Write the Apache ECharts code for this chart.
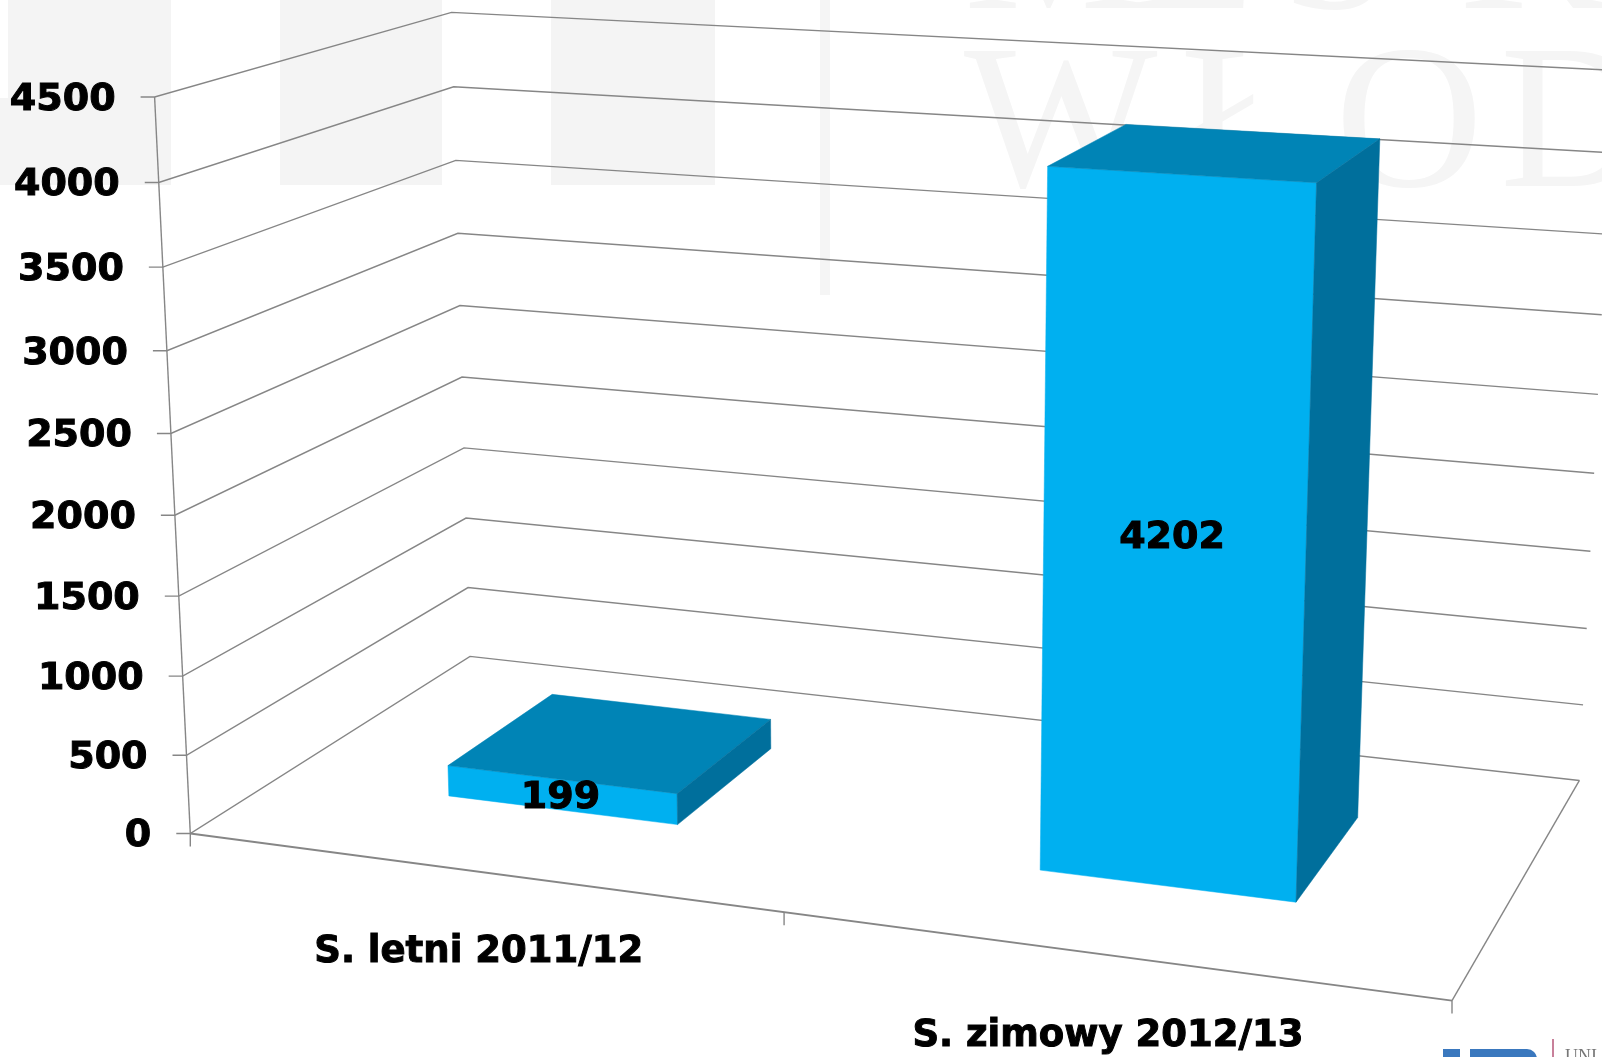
<!DOCTYPE html>
<html>
<head>
<meta charset="utf-8">
<title>Chart</title>
<script src="https://cdn.jsdelivr.net/npm/echarts@6/dist/echarts.min.js"></script>
<style>
  html, body { margin: 0; padding: 0; background: #fff; }
  #main { width: 1602px; height: 1057px; }
</style>
</head>
<body>
<div id="main"></div>
<script>
var categories = ["S. letni 2011/12", "S. zimowy 2012/13"];
var values = [199, 4202];
var yTicks = [0, 500, 1000, 1500, 2000, 2500, 3000, 3500, 4000, 4500];
var yMax = 4500;

var W = 1602;
var H = 1057;
var FONT = "bold 38px 'DejaVu Sans', sans-serif";
var CAT_FONT = "bold 37px 'DejaVu Sans', sans-serif";
var LINE = "#868686";

// corners of the 3D box on screen and the perspective weights
var A = [190.3, 833.5]; // front left floor
var E = [1452, 1000.6]; // front right floor
var B = [154.6, 97]; // front left top
var C = [470, 656.4]; // back left floor
var pa = -0.111;
var pb = -0.0487;
var pc = 0.15;

// u: along categories, v: up the value axis, w: into the page, all 0..1
function project(u, v, w) {
  var d = 1 + pa * u + pb * v + pc * w;
  return [0, 1].map(function (i) {
    return (A[i] +
      u * (E[i] * (1 + pa) - A[i]) +
      v * (B[i] * (1 + pb) - A[i]) +
      w * (C[i] * (1 + pc) - A[i])) / d;
  });
}

// hidden grid covers the page, its scales turn data into u and v
function toPlane(api, cat, val) {
  var p = api.coord([cat, val]);
  return [p[0] / W, (H - p[1]) / H];
}

function line(points, width) {
  return {
    type: "polyline",
    shape: { points: points },
    style: { stroke: LINE, lineWidth: width || 1.4, fill: "none" }
  };
}

function label(text, x, y, align, font) {
  return {
    type: "text",
    z2: 10,
    style: {
      text: text,
      x: x,
      y: y,
      align: align || "center",
      verticalAlign: "middle",
      fill: "#000",
      stroke: "#000",
      lineWidth: 1,
      font: font || FONT
    }
  };
}

function face(points, color) {
  return {
    type: "polygon",
    shape: { points: points },
    style: { fill: color, stroke: color, lineWidth: 0.5 }
  };
}

function renderWall(params, api) {
  var tick = api.value(1);
  var v = toPlane(api, 0, tick)[1];
  var front = project(0, v, 0);
  return {
    type: "group",
    children: [
      line([[front[0] - 14, front[1]], front, project(0, v, 1), project(1, v, 1)]),
      label(String(tick), front[0] - 39, front[1] + 3, "right")
    ]
  };
}

function renderFloor(params, api) {
  var bottom = project(0, 0, 0);
  var top = project(0, 1, 0);
  var right = project(1, 0, 0);
  var children = [
    line([top, bottom]),
    line([bottom, right], 1.8),
    line([right, project(1, 0, 1)])
  ];
  [0, 0.5, 1].forEach(function (u) {
    var p = project(u, 0, 0);
    children.push(line([p, [p[0], p[1] + 13]]));
  });
  return { type: "group", children: children };
}

function renderBar(params, api) {
  var idx = api.value(0);
  var val = api.value(1);
  var mid = toPlane(api, idx, val);
  var half = (api.size([1, 0])[0] / W) * 0.2;
  var uc = mid[0] + 0.001;
  var u0 = uc - half;
  var u1 = uc + half;
  var w0 = 0.3;
  var w1 = 0.7;
  var v = mid[1];
  var center = project(mid[0], v / 2, w0);
  var cat = project(mid[0], 0, 0);
  return {
    type: "group",
    children: [
      face([project(u0, 0, w0), project(u1, 0, w0), project(u1, v, w0), project(u0, v, w0)], "#00B0F0"),
      face([project(u0, v, w0), project(u1, v, w0), project(u1, v, w1), project(u0, v, w1)], "#0084B6"),
      face([project(u1, 0, w0), project(u1, 0, w1), project(u1, v, w1), project(u1, v, w0)], "#006F9C"),
      label(String(val), center[0], center[1] + (idx ? -1 : 3)),
      label(categories[idx], cat[0], cat[1] + 81, "center", CAT_FONT)
    ]
  };
}

function rect(x, y, w, h, fill, r) {
  return {
    type: "rect",
    z: 0,
    shape: { x: x, y: y, width: w, height: h, r: r || 0 },
    style: { fill: fill }
  };
}

function bgText(text, x, y, size, fill) {
  return {
    type: "text",
    z: 0,
    style: {
      text: text,
      x: x,
      y: y,
      fill: fill,
      font: size + "px 'Liberation Serif', serif",
      verticalAlign: "bottom"
    }
  };
}

var myChart = echarts.init(document.getElementById("main"), null, { width: W, height: H });

var option = {
  animation: false,
  backgroundColor: "#fff",
  graphic: {
    elements: [
      // slide background showing through the chart
      rect(8, 0, 163, 98, "#F4F4F4"),
      rect(0, 98, 171, 87, "#F4F4F4"),
      rect(280, 0, 162, 185, "#F4F4F4"),
      rect(551, 0, 164, 185, "#F4F4F4"),
      rect(820, 0, 10, 295, "#F5F5F5"),
      bgText("M", 964, 57, 205, "#F5F5F5"),
      bgText("E", 1130, 57, 205, "#F5F5F5"),
      bgText("S", 1280, 57, 205, "#F5F5F5"),
      bgText("K", 1460, 57, 205, "#F5F5F5"),
      bgText("W", 964, 235, 205, "#F5F5F5"),
      bgText("Ł", 1180, 235, 205, "#F5F5F5"),
      bgText("O", 1335, 235, 205, "#F5F5F5"),
      bgText("D", 1500, 235, 205, "#F5F5F5"),
      rect(1443, 1049, 17, 10, "#3A78BE"),
      rect(1470, 1049, 67, 10, "#3A78BE", [0, 14, 0, 0]),
      rect(1552, 1039, 2, 18, "#C8809A"),
      bgText("UNI", 1565, 1066, 18, "#777")
    ]
  },
  grid: { left: 0, top: 0, width: W, height: H, containLabel: false },
  xAxis: { type: "category", data: categories, show: false },
  yAxis: { type: "value", min: 0, max: yMax, interval: 500, show: false },
  series: [
    {
      name: "walls",
      type: "custom",
      z: 2,
      silent: true,
      renderItem: renderWall,
      encode: { x: 0, y: 1 },
      data: yTicks.map(function (t) { return [0, t]; })
    },
    {
      name: "floor",
      type: "custom",
      z: 3,
      silent: true,
      renderItem: renderFloor,
      data: [[0, 0]]
    },
    {
      name: "bars",
      type: "custom",
      z: 4,
      silent: true,
      renderItem: renderBar,
      encode: { x: 0, y: 1 },
      data: values.map(function (v, i) { return [i, v]; })
    }
  ]
};
myChart.setOption(option);
</script>
</body>
</html>
